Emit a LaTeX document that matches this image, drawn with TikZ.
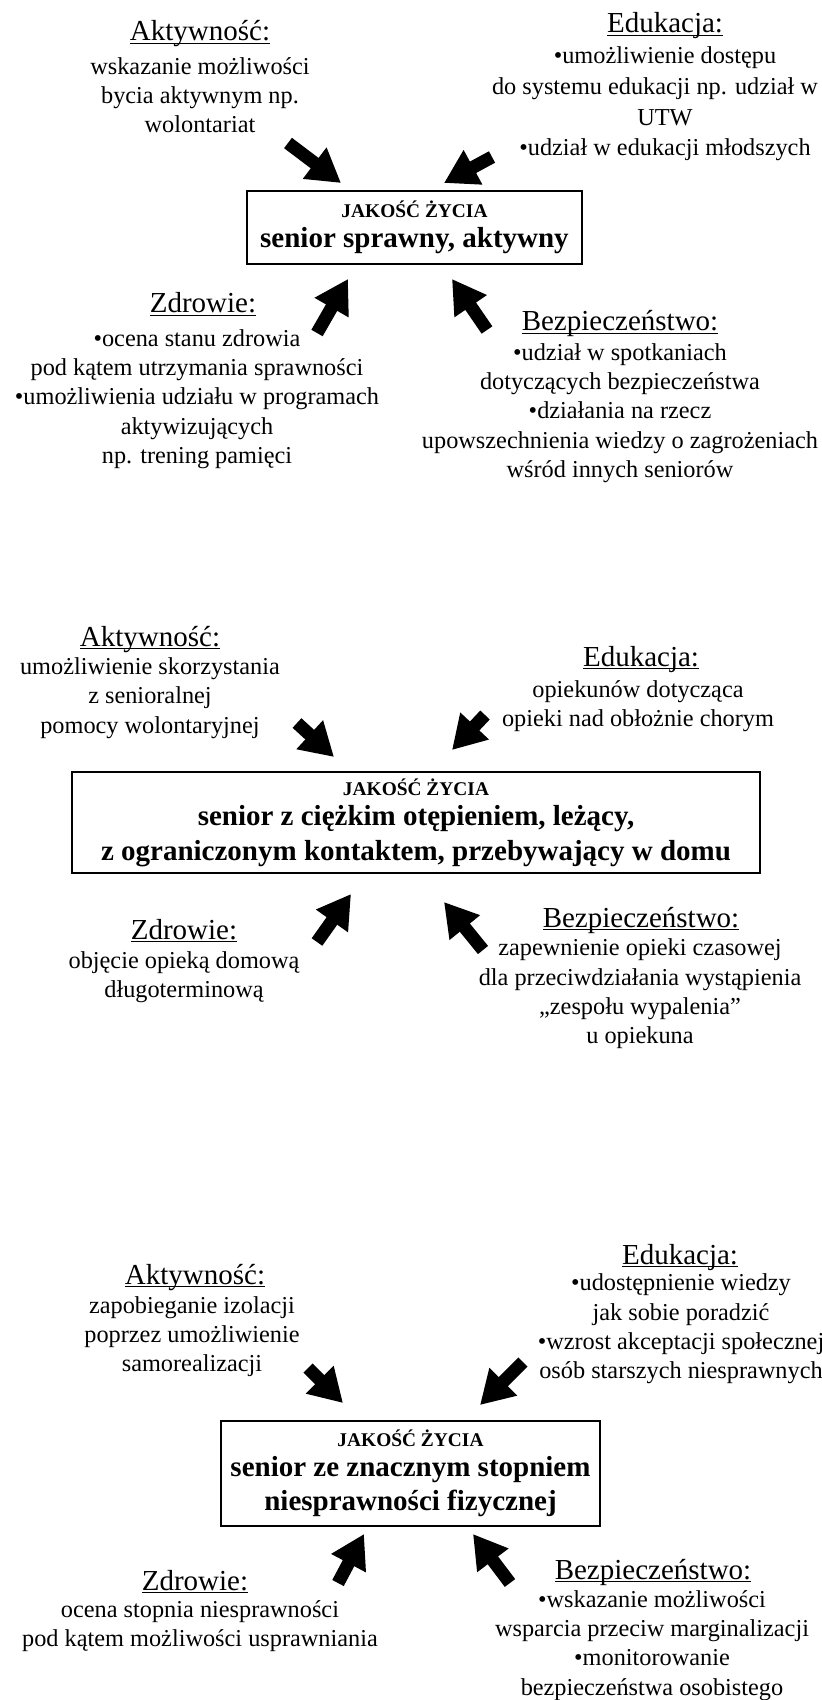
\documentclass[tikz,border=0pt]{standalone}
\usepackage{fontspec}
\setmainfont{Liberation Serif}
\usepackage{tikz}
\usetikzlibrary{arrows.meta}

\newcommand\undl[1]{\underline{\smash{#1}}}
\newcommand\boxsmall{\fontsize{9.7}{11}\selectfont\bfseries}

\begin{document}
\begin{tikzpicture}[
    x=0.5pt, y=-0.5pt,
    heading/.style={inner sep=0pt, font=\fontsize{14.5}{17}\selectfont},
    desc/.style={inner sep=0pt, align=center, font=\fontsize{12.15}{14.65}\selectfont},
    qbox/.style={draw, line width=0.75pt, inner sep=0pt, align=center, font=\fontsize{14.5}{17}\selectfont\bfseries},
    bigarrow/.style={line width=6.5pt, -{Triangle[length=16.5pt, width=18.5pt]}},
]
\useasboundingbox (0,0) rectangle (822,1700);

% Panel 1: senior sprawny
\node[heading] (akt1) at (200,43) {\undl{Aktywność:}};
\node[desc] (akt1txt) at (200,95) {wskazanie możliwości\\bycia aktywnym np.\\wolontariat};
\node[heading] (edu1) at (665,35) {\undl{Edukacja:}};
\node[desc, font=\fontsize{12.15}{15.3}\selectfont] (edu1txt) at (665,104) {•umożliwienie dostępu\\do systemu edukacji np. udział w\rule{10pt}{0pt}\\UTW\\•udział w edukacji młodszych};
\node[qbox, minimum width=167.5pt, minimum height=36.5pt] (q1) at (414.5,227.5) {{\boxsmall JAKOŚĆ ŻYCIA}\\[-2pt]senior sprawny, aktywny};
\node[heading] (zdr1) at (203,315) {\undl{Zdrowie:}};
\node[desc] (zdr1txt) at (197,399) {•ocena stanu zdrowia\\pod kątem utrzymania sprawności\\•umożliwienia udziału w programach\\aktywizujących\\np. trening pamięci};
\node[heading] (bez1) at (620,333) {\undl{Bezpieczeństwo:}};
\node[desc] (bez1txt) at (620,413) {•udział w spotkaniach\\dotyczących bezpieczeństwa\\•działania na rzecz\\upowszechnienia wiedzy o zagrożeniach\\wśród innych seniorów};

% Panel 2: senior z otepieniem
\node[heading] (akt2) at (150,648) {\undl{Aktywność:}};
\node[desc] (akt2txt) at (150,698) {umożliwienie skorzystania\\z senioralnej\\pomocy wolontaryjnej};
\node[heading] (edu2) at (641,668) {\undl{Edukacja:}};
\node[desc] (edu2txt) at (638,706.5) {opiekunów dotycząca\\opieki nad obłożnie chorym};
\node[qbox, minimum width=344pt, minimum height=50.5pt] (q2) at (416,822.5) {{\boxsmall JAKOŚĆ ŻYCIA}\\[-2pt]senior z ciężkim otępieniem, leżący,\\[0.5pt]z ograniczonym kontaktem, przebywający w domu};
\node[heading] (zdr2) at (184,941) {\undl{Zdrowie:}};
\node[desc] (zdr2txt) at (184,977) {objęcie opieką domową\\długoterminową};
\node[heading] (bez2) at (641,929) {\undl{Bezpieczeństwo:}};
\node[desc] (bez2txt) at (640,994) {zapewnienie opieki czasowej\\dla przeciwdziałania wystąpienia\\„zespołu wypalenia”\\u opiekuna};

% Panel 3: senior niesprawny fizycznie
\node[heading] (akt3) at (195,1286) {\undl{Aktywność:}};
\node[desc] (akt3txt) at (192,1336.5) {zapobieganie izolacji\\poprzez umożliwienie\\samorealizacji};
\node[heading] (edu3) at (680,1266) {\undl{Edukacja:}};
\node[desc] (edu3txt) at (681,1329) {•udostępnienie wiedzy\\jak sobie poradzić\\•wzrost akceptacji społecznej\\osób starszych niesprawnych};
\node[qbox, minimum width=189.5pt, minimum height=52.5pt] (q3) at (410.5,1473.5) {{\boxsmall JAKOŚĆ ŻYCIA}\\[-2pt]senior ze znacznym stopniem\\niesprawności fizycznej};
\node[heading] (zdr3) at (195,1592) {\undl{Zdrowie:}};
\node[desc] (zdr3txt) at (200,1626) {ocena stopnia niesprawności\\pod kątem możliwości usprawniania};
\node[heading] (bez3) at (653,1581) {\undl{Bezpieczeństwo:}};
\node[desc] (bez3txt) at (652,1645.5) {•wskazanie możliwości\\wsparcia przeciw marginalizacji\\•monitorowanie\\bezpieczeństwa osobistego};

% Arrows
\foreach \n/\s/\e in {
    a1/{288,143}/{341,183}, e1/{492,157}/{444,183},
    z1/{317,333}/{348,279}, b1/{487,330}/{452,279},
    a2/{297,723}/{334,757}, e2/{485,715}/{452,750},
    z2/{317,942}/{351,894}, b2/{483,950}/{444,902},
    a3/{308,1368}/{343,1403}, e3/{523,1362}/{480,1405},
    z3/{338,1583}/{364,1534}, b3/{510,1583}/{473,1534}} {
    \coordinate (\n s) at (\s);
    \coordinate (\n e) at (\e);
    \draw[bigarrow] (\n s) -- (\n e);
}

\end{tikzpicture}
\end{document}
